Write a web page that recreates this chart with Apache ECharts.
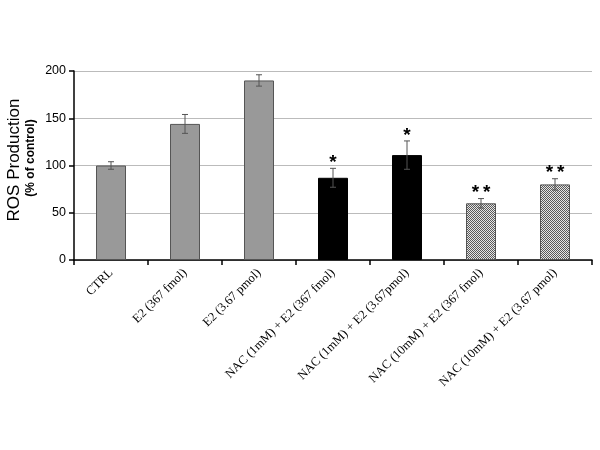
<!DOCTYPE html>
<html>
<head>
<meta charset="utf-8">
<script src="https://cdn.jsdelivr.net/npm/echarts@6/dist/echarts.min.js"></script>
<style>html,body{margin:0;padding:0;background:#fff;}#c{width:600px;height:450px;}</style>
</head>
<body>
<div id="c"></div>
<script>
const categories = ['CTRL', 'E2 (367 fmol)', 'E2 (3.67 pmol)', 'NAC (1mM) + E2 (367 fmol)', 'NAC (1mM) + E2 (3.67pmol)', 'NAC (10mM) + E2 (367 fmol)', 'NAC (10mM) + E2 (3.67 pmol)'];
const values = [100, 144, 190, 87, 111, 60, 80];
const errors = [4, 10, 6, 10, 15, 5, 6];
const markers = ['', '', '', '*', '*', '**', '**'];
const groups = ['gray', 'gray', 'gray', 'black', 'black', 'check', 'check'];
const yTicks = [0, 50, 100, 150, 200];

const pc = document.createElement('canvas');
pc.width = 2; pc.height = 2;
const pctx = pc.getContext('2d');
pctx.fillStyle = '#e6e6e6'; pctx.fillRect(0, 0, 2, 2);
pctx.fillStyle = '#5a5a5a'; pctx.fillRect(0, 0, 1, 1); pctx.fillRect(1, 1, 1, 1);

function styleFor(g) {
  if (g === 'gray') return { color: '#999999', borderColor: '#555', borderWidth: 1 };
  if (g === 'black') return { color: '#000000', borderColor: '#000', borderWidth: 1 };
  return { color: { image: pc, repeat: 'repeat' }, borderColor: '#555', borderWidth: 1 };
}

const barData = values.map((v, i) => ({ value: v, itemStyle: styleFor(groups[i]) }));
const errData = values.map((v, i) => [i, v - errors[i], v + errors[i], markers[i]]);

const chart = echarts.init(document.getElementById('c'));
chart.setOption({
  animation: false,
  grid: { left: 74, right: 8, top: 71, bottom: 190 },
  xAxis: {
    type: 'category',
    data: categories,
    axisLine: { lineStyle: { color: '#000', width: 1.5 } },
    axisTick: { show: true, alignWithLabel: false, length: 5, lineStyle: { color: '#000', width: 1.5 } },
    axisLabel: { rotate: 45, interval: 0, fontFamily: 'Liberation Serif', fontSize: 12.5, color: '#000', margin: 11 }
  },
  yAxis: {
    type: 'value', min: 0, max: 200, interval: 50,
    axisLine: { show: true, lineStyle: { color: '#000', width: 1.5 } },
    axisTick: { show: true, length: 5, lineStyle: { color: '#000', width: 1.5 } },
    axisLabel: { fontFamily: 'Liberation Sans', fontSize: 12.5, color: '#000', margin: 8,
      formatter: v => yTicks.includes(v) ? String(v) : '' },
    splitLine: { lineStyle: { color: '#bbbbbb', width: 1 } }
  },
  graphic: [
    { type: 'text', x: 14, y: 160, rotation: Math.PI / 2,
      style: { text: 'ROS Production', fontFamily: 'Liberation Sans', fontSize: 17, fill: '#000', align: 'center', verticalAlign: 'middle' } },
    { type: 'text', x: 31, y: 158, rotation: Math.PI / 2,
      style: { text: '(% of control)', fontFamily: 'Liberation Sans', fontWeight: 'bold', fontSize: 12, fill: '#000', align: 'center', verticalAlign: 'middle' } }
  ],
  series: [
    { type: 'bar', data: barData, barWidth: 30 },
    {
      type: 'custom', data: errData, z: 5,
      renderItem: function (params, api) {
        const x = api.value(0);
        const lo = api.coord([x, api.value(1)]);
        const hi = api.coord([x, api.value(2)]);
        const mk = api.value(3);
        const cap = 3;
        const ls = { stroke: '#555', lineWidth: 1 };
        const children = [
          { type: 'line', shape: { x1: hi[0], y1: hi[1], x2: lo[0], y2: lo[1] }, style: ls },
          { type: 'line', shape: { x1: hi[0] - cap, y1: hi[1], x2: hi[0] + cap, y2: hi[1] }, style: ls },
          { type: 'line', shape: { x1: lo[0] - cap, y1: lo[1], x2: lo[0] + cap, y2: lo[1] }, style: ls }
        ];
        if (mk) {
          const txt = mk.split('').join('\u2009');
          children.push({ type: 'text', x: hi[0], y: hi[1] + 4,
            style: { text: txt, fontFamily: 'Liberation Sans', fontWeight: 'bold', fontSize: 19, fill: '#000', align: 'center', verticalAlign: 'bottom' } });
        }
        return { type: 'group', children: children };
      }
    }
  ]
});
</script>
</body>
</html>
